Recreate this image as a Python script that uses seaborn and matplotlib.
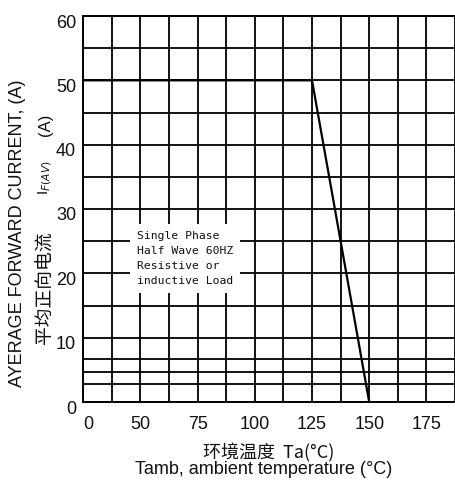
import matplotlib
matplotlib.use("Agg")
import matplotlib.pyplot as plt
import matplotlib.transforms as mtransforms
import seaborn as sns
import pandas as pd
import numpy as np

# ---- data ----
temp_c = [25, 125, 150]           # ambient temperature (°C)
current_a = [50, 50, 0]           # average forward current (A)
x_tick_vals = [25, 50, 75, 100, 125, 150, 175]
x_tick_labels = ["0", "50", "75", "100", "125", "150", "175"]
x_minor_grid = [37.5, 62.5, 87.5, 112.5, 137.5, 162.5, 187.5]
y_tick_vals = [0, 10, 20, 30, 40, 50, 60]
y_tick_labels = ["0", "10", "20", "30", "40", "50", "60"]
y_minor_grid = [2.8, 4.7, 6.7, 15, 25, 35, 45, 55]
note_lines = ["Single Phase", "Half Wave 60HZ", "Resistive or", "inductive Load"]

sns.set_theme(style="white")
plt.rcParams['font.family'] = ['Liberation Sans', 'Noto Sans CJK SC', 'DejaVu Sans']

W, H = 455, 484
fig = plt.figure(figsize=(W / 100, H / 100), dpi=100)
ax = fig.add_axes([83 / W, 1 - 402 / H, (455 - 83) / W, (402 - 16) / H])

df = pd.DataFrame({"t": temp_c, "i": current_a})
sns.lineplot(data=df, x="t", y="i", ax=ax, color="black", linewidth=1.6,
             sort=False, zorder=4)

ax.set_xlim(24.9, 185.8)
ax.set_ylim(0, 60)
ax.set_xticks(x_tick_vals)
ax.set_xticklabels(x_tick_labels)
ax.set_xticks(x_minor_grid, minor=True)
ax.set_yticks(y_tick_vals)
ax.set_yticklabels(y_tick_labels)
ax.set_yticks(y_minor_grid, minor=True)
ax.grid(True, which="both", color="black", linewidth=1.3)
ax.tick_params(which="both", length=0)
ax.tick_params(axis="x", labelsize=13, pad=10, colors="#111111")
ax.tick_params(axis="y", labelsize=13, pad=5, colors="#111111")
ax.set_xlabel("")
ax.set_ylabel("")
for side in ["left", "bottom", "top"]:
    ax.spines[side].set_color("black")
    ax.spines[side].set_linewidth(1.4)
ax.spines["right"].set_visible(False)

# nudge the "0" x label right (broken axis convention)
lbl0 = ax.get_xticklabels()[0]
lbl0.set_transform(lbl0.get_transform() + mtransforms.ScaledTranslation(5 / 100, 0, fig.dpi_scale_trans))
# y labels sit slightly below their grid lines in the reference
for lbl in ax.get_yticklabels():
    lbl.set_transform(lbl.get_transform() + mtransforms.ScaledTranslation(0, -5 / 100, fig.dpi_scale_trans))

ax.text(48.4, 26.6, "\n".join(note_lines), family="DejaVu Sans Mono", fontsize=8.2,
        va="top", ha="left", linespacing=1.65, color="#111111", zorder=5,
        bbox=dict(boxstyle="square,pad=0.6", facecolor="white", edgecolor="none"))

# axis titles
fig.text(18 / W, 1 - 233 / H, "AYERAGE FORWARD CURRENT, (A)", rotation=90,
         ha="center", va="center", fontsize=13, color="#111111")
fig.text(45 / W, 1 - 288 / H, "平均正向电流", rotation=90, ha="center", va="center",
         fontsize=13.5, color="#111111", family=["Noto Sans CJK SC", "DejaVu Sans"])
fig.text(45 / W, 1 - 178 / H, r"I$_{F(AV)}$", rotation=90, ha="center", va="center",
         fontsize=11, color="#111111")
fig.text(45 / W, 1 - 125 / H, "(A)", rotation=90, ha="center", va="center",
         fontsize=12, color="#111111")

fig.text(269 / W, 1 - 452 / H, "环境温度  Ta(°C)", ha="center", va="center",
         fontsize=13, color="#111111", family=["Noto Sans CJK SC", "DejaVu Sans"])
fig.text(264 / W, 1 - 470 / H, "Tamb, ambient temperature (°C)", ha="center", va="center",
         fontsize=13, color="#111111")

fig.savefig("out.png", dpi=100)
